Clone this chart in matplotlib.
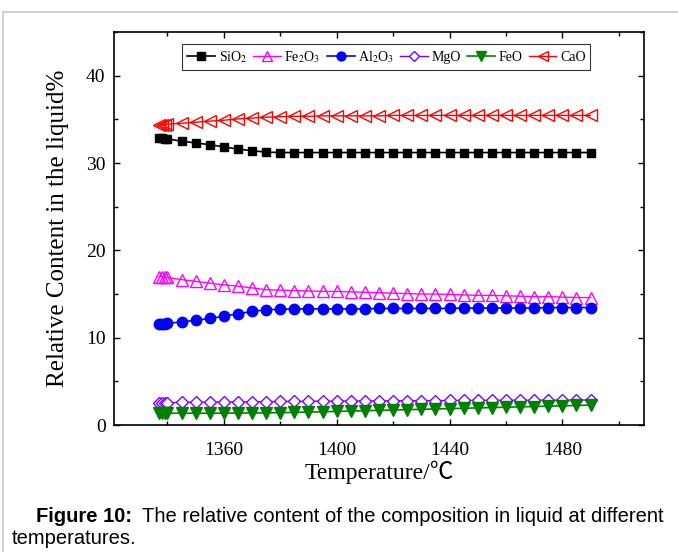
import matplotlib
matplotlib.use("Agg")
import matplotlib.pyplot as plt
from matplotlib.lines import Line2D
from matplotlib.ticker import MultipleLocator

plt.rcParams['font.family'] = ['Liberation Serif', 'DejaVu Serif']
plt.rcParams['mathtext.fontset'] = 'stix'

# temperature (C)
temps = [1337, 1338, 1339, 1340, 1345, 1350, 1355, 1360, 1365, 1370, 1375, 1380,
         1385, 1390, 1395, 1400, 1405, 1410, 1415, 1420, 1425, 1430, 1435, 1440,
         1445, 1450, 1455, 1460, 1465, 1470, 1475, 1480, 1485, 1490]

sio2 = [32.9, 32.85, 32.8, 32.75, 32.5, 32.3, 32.1, 31.85, 31.6, 31.4, 31.25, 31.2,
        31.2, 31.2, 31.2, 31.2, 31.2, 31.2, 31.2, 31.2, 31.2, 31.2, 31.2, 31.2,
        31.2, 31.2, 31.2, 31.2, 31.2, 31.2, 31.2, 31.2, 31.2, 31.2]
fe2o3 = [17.0, 17.0, 16.95, 16.9, 16.65, 16.45, 16.25, 16.05, 15.9, 15.7, 15.5, 15.45,
         15.4, 15.35, 15.3, 15.3, 15.25, 15.2, 15.15, 15.1, 15.05, 15.0, 15.0, 14.95,
         14.9, 14.85, 14.85, 14.8, 14.75, 14.7, 14.7, 14.65, 14.6, 14.6]
al2o3 = [11.55, 11.6, 11.6, 11.65, 11.8, 12.0, 12.2, 12.45, 12.75, 13.0, 13.2, 13.25,
         13.3, 13.3, 13.3, 13.3, 13.3, 13.3, 13.35, 13.35, 13.35, 13.35, 13.35, 13.35,
         13.4, 13.4, 13.4, 13.4, 13.4, 13.4, 13.45, 13.45, 13.45, 13.45]
mgo = [2.5, 2.5, 2.55, 2.55, 2.6, 2.6, 2.62, 2.64, 2.65, 2.66, 2.68, 2.7,
       2.7, 2.72, 2.73, 2.74, 2.75, 2.76, 2.77, 2.78, 2.79, 2.8, 2.8, 2.81,
       2.82, 2.82, 2.83, 2.83, 2.84, 2.84, 2.85, 2.85, 2.86, 2.86]
feo = [1.35, 1.35, 1.35, 1.35, 1.35, 1.35, 1.35, 1.36, 1.37, 1.38, 1.4, 1.42,
       1.45, 1.48, 1.52, 1.56, 1.6, 1.64, 1.68, 1.72, 1.76, 1.8, 1.84, 1.88,
       1.92, 1.96, 2.0, 2.04, 2.08, 2.12, 2.16, 2.2, 2.24, 2.28]
cao = [34.35, 34.4, 34.4, 34.45, 34.55, 34.67, 34.8, 34.9, 35.05, 35.15, 35.25, 35.3,
       35.35, 35.35, 35.4, 35.4, 35.4, 35.4, 35.4, 35.45, 35.45, 35.45, 35.45, 35.45,
       35.45, 35.45, 35.45, 35.45, 35.45, 35.45, 35.45, 35.45, 35.45, 35.45]

fig = plt.figure(figsize=(6.78, 5.52), dpi=100)
ax = fig.add_axes([0.168, 0.230, 0.782, 0.712])

ax.plot(temps, sio2, color='black', lw=1.2, marker='s', ms=6, label='SiO$_2$')
ax.plot(temps, fe2o3, color='#ff00ff', lw=1.0, marker='^', ms=9, mfc='none',
        mew=1.0, label='Fe$_2$O$_3$')
ax.plot(temps, al2o3, color='#0000ff', lw=1.2, marker='o', ms=7.5, label='Al$_2$O$_3$')
ax.plot(temps, mgo, color='#8000ff', lw=1.0, marker='D', ms=6.5, mfc='white',
        mew=1.0, label='MgO')
ax.plot(temps, feo, color='#008000', lw=1.2, marker='v', ms=8.5, label='FeO')
ax.plot(temps, cao, color='#ff0000', lw=1.0, marker='<', ms=9, mfc='none',
        mew=1.0, label='CaO')

ax.set_xlim(1321, 1509)
ax.set_ylim(0, 45)
ax.xaxis.set_major_locator(MultipleLocator(40))
ax.xaxis.set_minor_locator(MultipleLocator(20))
ax.yaxis.set_major_locator(MultipleLocator(10))
ax.yaxis.set_minor_locator(MultipleLocator(5))
ax.tick_params(which='both', direction='in', top=True, right=True, labelsize=14,
               width=1.0)
ax.tick_params(which='major', length=4.5)
ax.tick_params(which='minor', length=3)
ax.tick_params(axis='x', which='major', pad=12)
ax.tick_params(axis='y', which='major', pad=6)
for s in ax.spines.values():
    s.set_linewidth(1.2)

ax.set_xlabel('Temperature/℃', fontsize=17, labelpad=1,
              family=['Liberation Serif', 'Noto Sans CJK SC'])
ax.set_ylabel('Relative Content in the liquid%', fontsize=18, labelpad=12)

leg = ax.legend(loc='upper center', bbox_to_anchor=(0.514, 0.969), ncol=6,
                fontsize=10, frameon=True, fancybox=False, borderaxespad=0,
                handlelength=2.0, handletextpad=0.25, columnspacing=0.45,
                borderpad=0.35, markerscale=0.85)
leg.get_frame().set_edgecolor('black')
leg.get_frame().set_linewidth(0.8)

# page border
fig.add_artist(Line2D([0.005, 1.0], [1 - 12 / 552, 1 - 12 / 552],
                      transform=fig.transFigure, color='#c8c8c8', lw=1.2))
fig.add_artist(Line2D([0.005, 0.005], [0, 1 - 12 / 552],
                      transform=fig.transFigure, color='#c8c8c8', lw=1.2))

# caption
cap = ['Liberation Sans', 'DejaVu Sans']
fig.text(36 / 678, 1 - 516 / 552, 'Figure 10:', fontsize=14.5, fontweight='bold',
         family=cap, va='center', ha='left')
fig.text(664 / 678, 1 - 516 / 552,
         'The relative content of the composition in liquid at different',
         fontsize=14.5, family=cap, va='center', ha='right')
fig.text(12 / 678, 1 - 538 / 552, 'temperatures.', fontsize=14.5, family=cap,
         va='center', ha='left')

fig.savefig('out.png', dpi=100)
